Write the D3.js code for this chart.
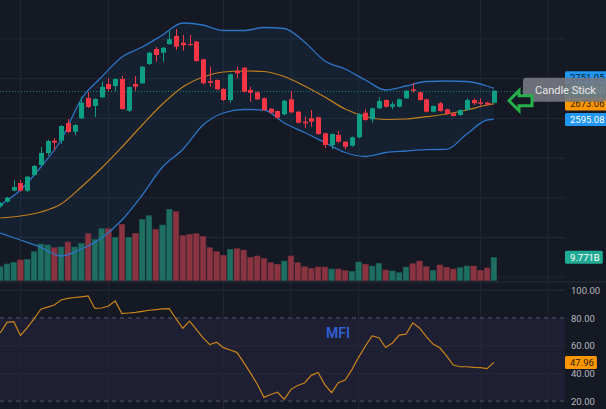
<!DOCTYPE html>
<html>
<head>
<meta charset="utf-8">
<script src="https://cdn.jsdelivr.net/npm/d3@7"></script>
<style>
  body { margin: 0; background: #151924; overflow: hidden; }
  text { font-family: Roboto, "Noto Sans", sans-serif; }
</style>
</head>
<body>
<svg id="chart"></svg>
<script>
// candles
const opens  = [2158.7,2180.3,2235.7,2274.5,2235.7,2314.8,2365.2,2425.7,2488,2487.7,2576.8,2533,2600.5,2702.8,2662.5,2706.3,2773.3,2763.2,2798.5,2638.8,2773.3,2776.8,2874,2949.6,2931,2974.8,3015.1,2981.4,2974.8,2986.4,2897.7,2788.4,2793.4,2748.1,2692.7,2840.3,2855.4,2743.1,2731.5,2701.3,2648.9,2637.3,2620.6,2696.2,2633.7,2583.4,2600.5,2605.5,2524.9,2466,2516.4,2482.6,2462.5,2504.8,2628.7,2595.5,2650.9,2692.7,2658.9,2658.9,2701.3,2746.6,2731.5,2696.2,2633.7,2676.1,2645.8,2625.7,2617.1,2642.3,2692.7,2681.1,2679.1,2679.1]
const highs  = [2178,2205,2289.6,2289,2310,2365,2455.9,2492,2500,2566,2597,2570,2709,2733,2702,2785,2803.5,2802,2813.6,2762,2813.6,2864,2935,2960,2960,3041.8,3050.4,3020.2,3020.2,2990,2900,2860.4,2797,2752,2826,2860.4,2858,2759.7,2736,2705,2652,2640,2693,2738,2637,2608.5,2642.3,2609,2528,2525,2536.5,2486,2508,2626,2645.8,2655,2706.3,2696,2684.1,2700,2743,2779.8,2735,2699,2666,2684,2649,2629,2646,2701.3,2701,2701,2683,2743]
const lows   = [2150,2176,2232,2232,2230,2310,2360,2412,2441,2471,2527,2516,2596,2652,2607,2702,2738,2738,2643,2632,2739.5,2773,2870,2885.6,2885.6,2970,2944.6,2941,2964.7,2885,2772,2759.7,2742,2688,2679,2802,2730,2684,2692,2638,2624,2600,2615,2626,2574,2550.1,2558.2,2517,2451,2444.3,2478,2444.3,2458,2500,2588,2578.3,2647,2655,2645.8,2655,2698,2729.5,2689,2630,2630,2634,2619,2609,2614,2639,2667.5,2664,2665,2675]
const closes = [2173.8,2200.5,2254.4,2235.7,2306.3,2360.2,2425.7,2486.1,2478,2561.7,2531.5,2566.7,2679.1,2657.4,2697.7,2759.7,2748.1,2798.5,2647.3,2758.2,2759.7,2860.4,2931,2919.4,2956.2,2998.5,2961.2,2968.3,2969.8,2889.2,2776.8,2779.8,2746.6,2692.7,2822.2,2827.2,2734.5,2729.5,2696.2,2642.3,2628.7,2603.5,2689.2,2630.7,2578.3,2575.3,2583.4,2521.4,2466,2521.4,2482.6,2457.4,2504.8,2622.2,2591.9,2650.9,2687.6,2658.9,2671,2696.2,2739.5,2739.5,2692.7,2633.7,2662.5,2637.3,2622.2,2612.1,2642.3,2692.7,2676.1,2674,2669,2739.5]
// volume in billions
const volumes = [5.81,6.95,7.66,8.63,8.93,12.12,15.37,14.95,13.81,14.1,16.21,14.1,15.66,19.7,17.35,21.81,21.81,18.19,23.66,18.19,19.87,25.77,27.28,21.56,23.37,29.98,28.96,18.86,19.45,19.7,18.61,13.81,12.12,10.61,13.14,13.39,12.84,9.77,10.31,9.35,7.49,6.82,8.21,10.31,7.49,5.81,5.14,5.68,5.68,4.84,4.84,4.13,3.87,7.79,6.82,6.1,7.24,4.42,4.0,3.28,5.68,7.07,8.21,5.81,4.29,6.53,5.56,4.84,5.39,6.1,6.1,4.29,5.26,9.771]
// money flow index
const mfi = [69.2,76.8,77.3,67.4,73.1,79.3,86.3,87.8,89.4,93.0,94.2,94.8,95.3,95.9,86.9,87.2,88.7,92.3,83.2,83.6,84.0,84.8,85.6,86.1,86.6,86.8,79.3,72.6,77.8,71.7,65.6,60.8,62.5,58.6,56.9,55.2,47.9,40.4,32.3,22.7,24.8,26.4,21.3,28.5,31.3,33.1,38.6,40.7,31.9,26.1,33.3,35.2,42.7,51.6,59.8,67.1,65.8,58.7,62.0,67.7,68.3,76.5,72.8,66.6,61.2,58.5,52.7,46.0,44.8,44.8,44.3,44.1,43.4,47.96]
// bollinger bands, sampled every third candle
const bandIdx   = [0,3,6,9,12,15,18,21,24,27,30,33,36,39,42,45,48,51,54,57,60,63,66,69,72,73]
const upperBand = [2163.7,2239.3,2355.1,2491.2,2697.7,2808.6,2909.3,2959.7,3020.2,3080.6,3070.5,3042.8,3042.8,3057.9,3052.9,2984.9,2889.2,2848.9,2793.4,2743.1,2763.2,2785.9,2788.4,2785.9,2763.2,2751.05]
const basis     = [2098.2,2108.3,2128.4,2168.7,2254.4,2350.1,2455.9,2566.7,2672.5,2758.2,2808.6,2833.7,2838.8,2836.3,2811.1,2763.2,2707.8,2647.3,2609.6,2594.4,2596.9,2608.5,2622.2,2642.3,2667.5,2673.06]
const lowerBand = [2022.6,1987.4,1950.6,1906.8,1942,1997.4,2088.1,2214.1,2355.1,2443.3,2566.7,2627.2,2644.8,2642.3,2576.8,2528.9,2478.6,2428.2,2408.0,2428.2,2435.7,2442.3,2444.3,2521.4,2591.9,2595.08]

const priceTicks = [1800, 2000, 2200, 2400, 2600, 2800, 3000, 3200]
const mfiTicks = [20, 40, 60, 80, 100]
const timeTicks = [3, 16, 33, 43, 53, 71, 81]

const W = 606, H = 409
const plotW = 565
const mainBottom = 281.5
const bg = '#151924'
const up = '#0d9e84', down = '#f23645'

const svg = d3.select('#chart').attr('width', W).attr('height', H)
svg.append('rect').attr('width', W).attr('height', H).attr('fill', bg)

const x = d3.scaleLinear().domain([0, 81]).range([0.2, 548])
const y = d3.scaleLinear().domain([1800, 3000]).range([277.2, 39])
const yVol = d3.scaleLinear().domain([0, 9.771]).range([280.5, 257.3])
const yMfi = d3.scaleLinear().domain([20, 80]).range([401.1, 318])

const defs = svg.append('defs')
defs.append('clipPath').attr('id', 'mainClip').append('rect')
  .attr('x', 0).attr('y', 0).attr('width', plotW).attr('height', mainBottom)
defs.append('clipPath').attr('id', 'mainAxisClip').append('rect')
  .attr('x', plotW).attr('y', 0).attr('width', W - plotW).attr('height', mainBottom)
defs.append('clipPath').attr('id', 'mfiClip').append('rect')
  .attr('x', 0).attr('y', mainBottom + 1).attr('width', plotW).attr('height', H - mainBottom)

const main = svg.append('g').attr('clip-path', 'url(#mainClip)')
const lower = svg.append('g').attr('clip-path', 'url(#mfiClip)')

// grid
main.selectAll('.hgrid').data(priceTicks).enter().append('line')
  .attr('x1', 0).attr('x2', plotW)
  .attr('y1', d => y(d)).attr('y2', d => y(d))
  .attr('stroke', '#232734').attr('stroke-width', 1)
main.selectAll('.vgrid').data(timeTicks).enter().append('line')
  .attr('x1', d => x(d)).attr('x2', d => x(d))
  .attr('y1', 0).attr('y2', mainBottom)
  .attr('stroke', '#232734').attr('stroke-width', 1)

// band fill
const bandData = bandIdx.map((d, k) => ({ i: d, u: upperBand[k], m: basis[k], l: lowerBand[k] }))
const area = d3.area().curve(d3.curveMonotoneX)
  .x(d => x(d.i)).y0(d => y(d.l)).y1(d => y(d.u))
main.append('path').datum(bandData).attr('d', area)
  .attr('fill', 'rgba(33,150,243,0.065)')

// volume
const candles = opens.map((o, i) => ({ i, o, h: highs[i], l: lows[i], c: closes[i], v: volumes[i] }))
const bw = 5.6
main.selectAll('.vol').data(candles).enter().append('rect')
  .attr('x', d => x(d.i) - bw / 2)
  .attr('y', d => yVol(d.v))
  .attr('width', bw)
  .attr('height', d => yVol(0) - yVol(d.v))
  .attr('fill', d => d.c >= d.o ? '#1f6e62' : '#8a3341')
  .attr('stroke', d => d.c >= d.o ? '#1a5c52' : '#74303c')
  .attr('stroke-width', 0.6)

// bands
const lineOf = key => d3.line().curve(d3.curveMonotoneX).x(d => x(d.i)).y(d => y(d[key]))
main.append('path').datum(bandData).attr('d', lineOf('u'))
  .attr('fill', 'none').attr('stroke', '#2d74c4').attr('stroke-width', 1.3)
main.append('path').datum(bandData).attr('d', lineOf('l'))
  .attr('fill', 'none').attr('stroke', '#2d74c4').attr('stroke-width', 1.3)
main.append('path').datum(bandData).attr('d', lineOf('m'))
  .attr('fill', 'none').attr('stroke', '#c27f1d').attr('stroke-width', 1.2)

// last price line
const lastClose = closes[closes.length - 1]
main.append('line')
  .attr('x1', 0).attr('x2', plotW)
  .attr('y1', Math.round(y(lastClose)) + 0.5).attr('y2', Math.round(y(lastClose)) + 0.5)
  .attr('stroke', '#0d9e84').attr('stroke-dasharray', '1,2').attr('stroke-opacity', 0.8)

// candles
const cw = 5
main.selectAll('.wick').data(candles).enter().append('line')
  .attr('x1', d => Math.round(x(d.i)) + 0.5).attr('x2', d => Math.round(x(d.i)) + 0.5)
  .attr('y1', d => y(d.h)).attr('y2', d => y(d.l))
  .attr('stroke', d => d.c >= d.o ? up : down).attr('stroke-width', 1)
main.selectAll('.body').data(candles).enter().append('rect')
  .attr('x', d => Math.round(x(d.i)) + 0.5 - cw / 2)
  .attr('y', d => y(Math.max(d.o, d.c)))
  .attr('width', cw)
  .attr('height', d => Math.max(1, Math.abs(y(d.o) - y(d.c))))
  .attr('fill', d => d.c >= d.o ? up : down)

// pane separator
svg.append('line').attr('x1', 0).attr('x2', W)
  .attr('y1', mainBottom + 0.5).attr('y2', mainBottom + 0.5)
  .attr('stroke', '#2a2e39').attr('stroke-width', 1)

// MFI pane
lower.append('rect')
  .attr('x', 0).attr('y', yMfi(80)).attr('width', plotW).attr('height', yMfi(20) - yMfi(80))
  .attr('fill', 'rgba(126,87,194,0.1)')
lower.selectAll('.mgrid').data(mfiTicks.filter(d => d !== 80 && d !== 20)).enter().append('line')
  .attr('x1', 0).attr('x2', plotW)
  .attr('y1', d => yMfi(d)).attr('y2', d => yMfi(d))
  .attr('stroke', '#262a38')
lower.selectAll('.mvgrid').data(timeTicks).enter().append('line')
  .attr('x1', d => x(d)).attr('x2', d => x(d))
  .attr('y1', mainBottom).attr('y2', H)
  .attr('stroke', '#232734')
lower.selectAll('.band').data([80, 20]).enter().append('line')
  .attr('x1', 0).attr('x2', plotW)
  .attr('y1', d => yMfi(d)).attr('y2', d => yMfi(d))
  .attr('stroke', '#555866').attr('stroke-dasharray', '4,4')
lower.append('path').datum(mfi)
  .attr('d', d3.line().x((d, i) => x(i)).y(d => yMfi(d)))
  .attr('fill', 'none').attr('stroke', '#c98419').attr('stroke-width', 1.2)
lower.append('text').attr('x', 338).attr('y', 338)
  .attr('text-anchor', 'middle').attr('fill', '#2f5fd6')
  .attr('font-size', 14).attr('font-weight', 600).text('MFI')

// price axis labels
const labels = [
  { v: upperBand[upperBand.length - 1], bg: '#2196f3', fg: '#0d1a2b' },
  { v: lastClose, bg: '#089981', fg: '#ffffff' },
  { v: basis[basis.length - 1], bg: '#ff9800', fg: '#2a1a00' },
  { v: lowerBand[lowerBand.length - 1], bg: '#2196f3', fg: '#ffffff' }
]
labels.forEach(l => { l.y = y(l.v) })
labels.sort((a, b) => b.y - a.y)
for (let k = 1; k < labels.length; k++) {
  if (labels[k - 1].y - labels[k].y < 13) labels[k].y = labels[k - 1].y - 13
}

const fmt = d3.format('.2f')
const priceAxis = svg.append('g').attr('clip-path', 'url(#mainAxisClip)')
  .attr('transform', `translate(${plotW},0)`)
  .call(d3.axisRight(y).tickValues(priceTicks).tickFormat(fmt).tickSize(0))
priceAxis.select('.domain').remove()
priceAxis.selectAll('.tick')
  .filter(d => labels.some(l => Math.abs(l.y - y(d)) < 11))
  .remove()
priceAxis.selectAll('text').attr('x', 6).attr('text-anchor', 'start')
  .attr('fill', '#b2b5be').attr('font-size', 9.5).attr('font-family', 'Roboto, sans-serif')

const mfiAxis = svg.append('g').attr('transform', `translate(${plotW},0)`)
  .call(d3.axisRight(yMfi).tickValues(mfiTicks).tickFormat(fmt).tickSize(0))
mfiAxis.select('.domain').remove()
mfiAxis.selectAll('.tick').filter(d => Math.abs(yMfi(d) - yMfi(mfi[mfi.length - 1])) < 11).remove()
mfiAxis.selectAll('text').attr('x', 6).attr('text-anchor', 'start')
  .attr('fill', '#b2b5be').attr('font-size', 9.5).attr('font-family', 'Roboto, sans-serif')

const tag = (g, yy, text, fill, color) => {
  const t = g.append('text').attr('x', plotW + 5).attr('y', yy).attr('dy', '0.35em')
    .attr('font-size', 9.5).attr('fill', color).text(text)
  const w = t.node().getComputedTextLength()
  g.insert('rect', 'text').attr('x', plotW).attr('y', yy - 6.5)
    .attr('width', w + 8).attr('height', 13).attr('rx', 1.5).attr('fill', fill)
}
labels.forEach(l => tag(svg.append('g'), l.y, fmt(l.v), l.bg, l.fg))
tag(svg.append('g'), yVol(volumes[volumes.length - 1]), d3.format('.4')(volumes[volumes.length - 1]) + 'B', '#22ab94', '#ffffff')
tag(svg.append('g'), yMfi(mfi[mfi.length - 1]), fmt(mfi[mfi.length - 1]), '#ff9800', '#2a1a00')

// annotation
const ly = y(lastClose)
const note = svg.append('g')
note.append('rect').attr('x', 523).attr('y', ly - 13).attr('width', 83).attr('height', 24)
  .attr('rx', 3).attr('fill', 'rgba(118,121,130,0.9)')
note.append('text').attr('x', 535).attr('y', ly - 1).attr('dy', '0.35em')
  .attr('fill', '#e6e6e6').attr('font-size', 11).text('Candle Stick')
const ay = ly + 10
note.append('path')
  .attr('d', `M509,${ay} L519,${ay - 10} L519,${ay - 5} L532,${ay - 5} L532,${ay + 5} L519,${ay + 5} L519,${ay + 10} Z`)
  .attr('fill', bg).attr('stroke', '#26b04b').attr('stroke-width', 3).attr('stroke-linejoin', 'miter')
</script>
</body>
</html>
